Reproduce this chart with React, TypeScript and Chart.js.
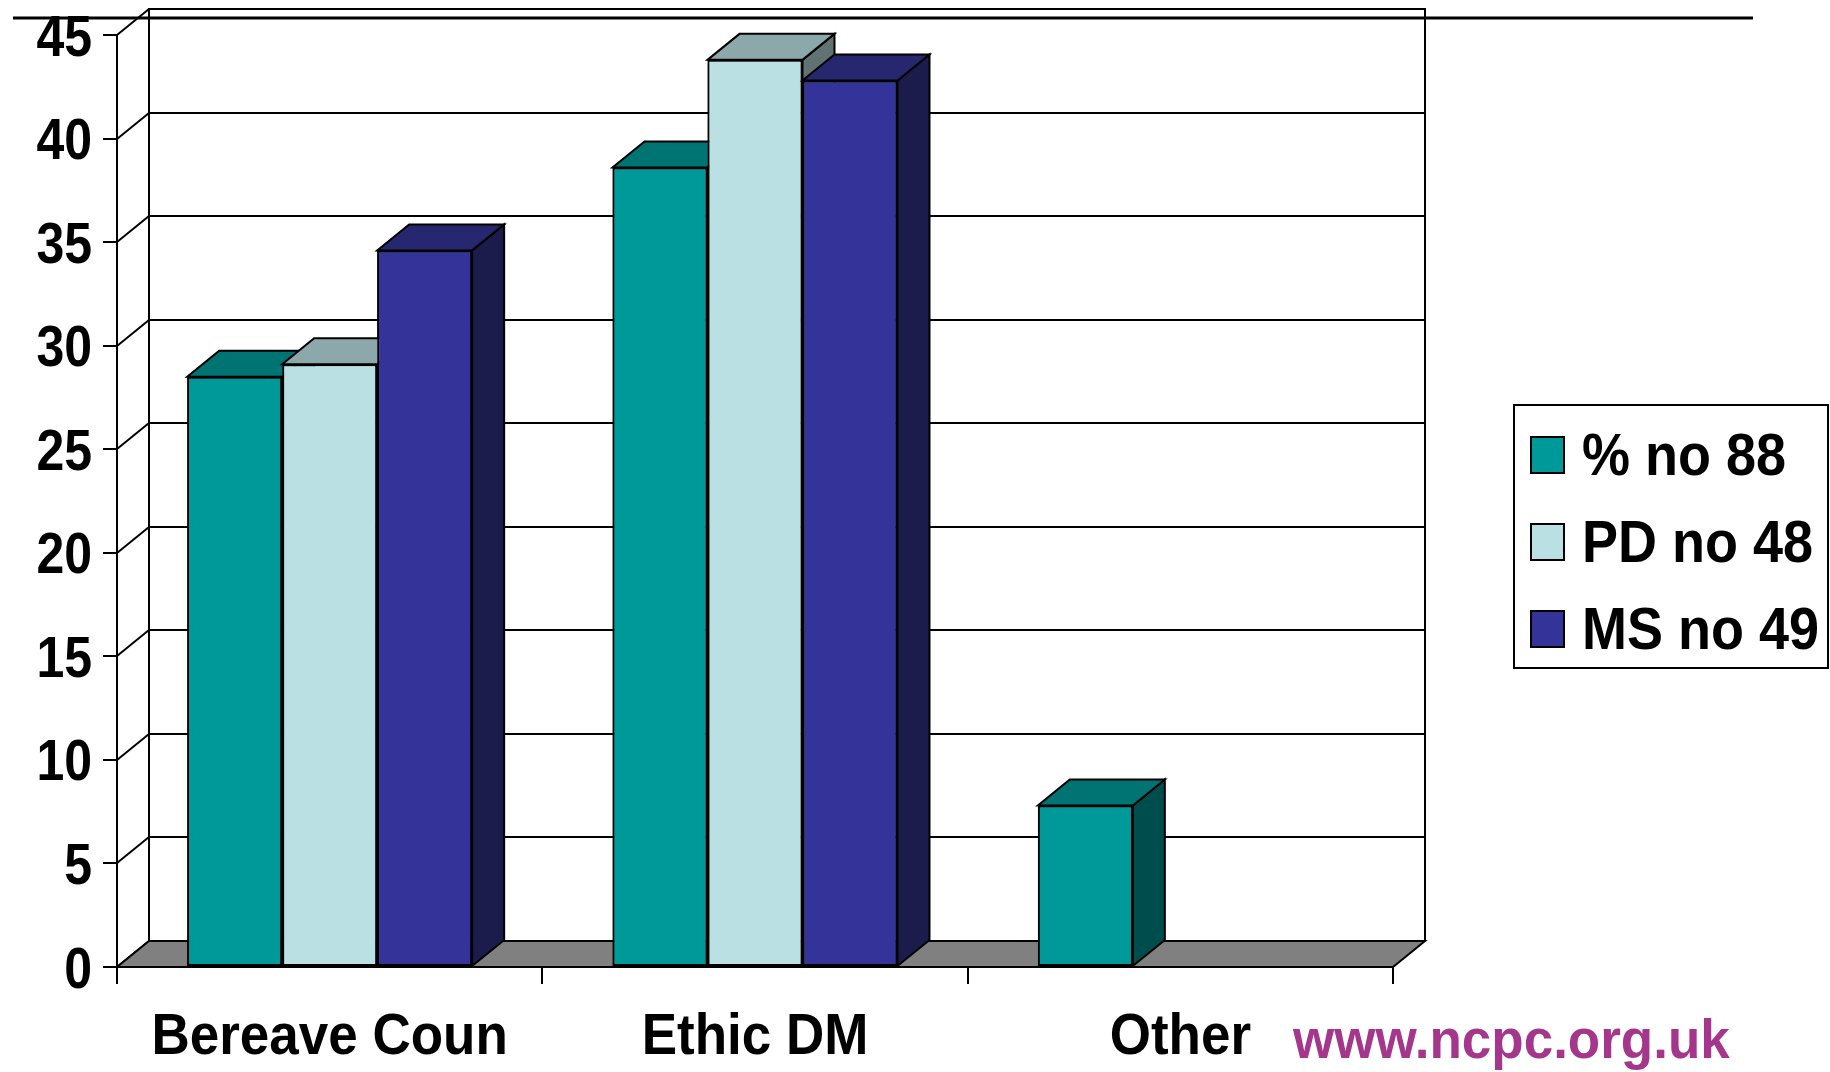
import React, { useEffect, useRef } from "react";
import { Chart, registerables } from "chart.js";

Chart.register(...registerables);

// Category names along the floor
const categories = ["Bereave Coun", "Ethic DM", "Other"];

// Series names shown in the legend
const seriesLabels = ["% no 88", "PD no 48", "MS no 49"];

// Percentages per category for each series
const allValues = [28.5, 38.6, 7.8];
const pdValues: (number | null)[] = [29.1, 43.8, null];
const msValues: (number | null)[] = [34.6, 42.8, null];

// Value axis range and step
const yMin = 0;
const yMax = 45;
const yStep = 5;

const siteLabel = "www.ncpc.org.uk";

// Face colours for the boxes: front, top (lit), side (shaded)
const frontColors = ["#009999", "#BBE0E3", "#333399"];
const topColors = ["#007373", "#8DA8AA", "#27276F"];
const sideColors = ["#004D4D", "#617273", "#1C1C4C"];

const FONT = "'Liberation Sans', Arial, Helvetica, sans-serif";
const DEPTH_X = 32;
const DEPTH_Y = 26;
const CAP = 0.716;

// Bold text with its own vertical scale, baseline at (x, y)
function stretchedText(
  ctx: CanvasRenderingContext2D,
  text: string,
  x: number,
  y: number,
  align: CanvasTextAlign,
  size: number,
  sy: number,
  color: string
) {
  ctx.save();
  ctx.translate(x, y);
  ctx.scale(1, sy);
  ctx.font = `bold ${size}px ${FONT}`;
  ctx.textAlign = align;
  ctx.textBaseline = "alphabetic";
  ctx.fillStyle = color;
  ctx.fillText(text, 0, 0);
  ctx.restore();
}

function drawFaces(ctx: CanvasRenderingContext2D, el: any, idx: number) {
  const { x, y, base, width } = el.getProps(["x", "y", "base", "width"], true);
  const l = x - width / 2;
  const r = x + width / 2;
  // side face
  ctx.beginPath();
  ctx.moveTo(r, y);
  ctx.lineTo(r + DEPTH_X, y - DEPTH_Y);
  ctx.lineTo(r + DEPTH_X, base - DEPTH_Y);
  ctx.lineTo(r, base);
  ctx.closePath();
  ctx.fillStyle = sideColors[idx];
  ctx.fill();
  ctx.stroke();
  // top face
  ctx.beginPath();
  ctx.moveTo(l, y);
  ctx.lineTo(r, y);
  ctx.lineTo(r + DEPTH_X, y - DEPTH_Y);
  ctx.lineTo(l + DEPTH_X, y - DEPTH_Y);
  ctx.closePath();
  ctx.fillStyle = topColors[idx];
  ctx.fill();
  ctx.stroke();
}

const box3d = {
  id: "box3d",
  beforeDraw(chart: any) {
    const { ctx, chartArea: a, scales } = chart;
    const y = scales.y;
    ctx.save();
    ctx.fillStyle = "#ffffff";
    ctx.fillRect(0, 0, chart.width, chart.height);

    const y0 = y.getPixelForValue(yMin);
    const yTop = y.getPixelForValue(yMax);
    const bl = a.left + DEPTH_X;
    const br = a.right + DEPTH_X;

    ctx.lineWidth = 2;
    ctx.strokeStyle = "#000";

    // back wall
    ctx.beginPath();
    ctx.moveTo(bl, y0 - DEPTH_Y);
    ctx.lineTo(bl, yTop - DEPTH_Y);
    ctx.lineTo(br, yTop - DEPTH_Y);
    ctx.lineTo(br, y0 - DEPTH_Y);
    ctx.stroke();

    // gridlines on the back wall and slanted ones on the side wall
    for (let v = yMin; v <= yMax; v += yStep) {
      const py = Math.round(y.getPixelForValue(v));
      ctx.beginPath();
      ctx.moveTo(bl, py - DEPTH_Y);
      ctx.lineTo(br, py - DEPTH_Y);
      ctx.stroke();
      ctx.beginPath();
      ctx.moveTo(a.left, py);
      ctx.lineTo(bl, py - DEPTH_Y);
      ctx.stroke();
    }

    // floor
    ctx.beginPath();
    ctx.moveTo(a.left, y0);
    ctx.lineTo(a.right, y0);
    ctx.lineTo(br, y0 - DEPTH_Y);
    ctx.lineTo(bl, y0 - DEPTH_Y);
    ctx.closePath();
    ctx.fillStyle = "#808080";
    ctx.fill();
    ctx.stroke();
    ctx.restore();
  },
  afterDatasetsDraw(chart: any) {
    // boxes are painted left to right so each one hides its left neighbour's side
    const { ctx } = chart;
    const count = chart.data.datasets.length;
    for (let d = 0; d < count; d++) {
      const meta = chart.getDatasetMeta(d);
      meta.data.forEach((el: any, i: number) => {
        const raw = chart.data.datasets[d].data[i];
        if (raw === null || raw === undefined) return;
        el.draw(ctx, chart.chartArea);
        ctx.save();
        ctx.lineWidth = 2;
        ctx.strokeStyle = "#000";
        drawFaces(ctx, el, d);
        ctx.restore();
      });
    }
  },
  afterDraw(chart: any) {
    const { ctx, scales } = chart;
    ctx.save();

    // value axis labels
    const ys = scales.y;
    ys.ticks.forEach((t: any) => {
      const py = ys.getPixelForValue(t.value);
      const sy = 1.15;
      stretchedText(ctx, String(t.value), 92, py + (CAP * 50 * sy) / 2, "right", 50, sy, "#000");
    });

    // category labels
    const xs = scales.x;
    xs.ticks.forEach((t: any, i: number) => {
      const px = xs.getPixelForTick(i);
      stretchedText(ctx, String(xs.getLabelForValue(t.value)), px, 1054, "center", 53, 1.1, "#000");
    });

    // legend
    const lx = 1514, ly = 405, lw = 314, lh = 263;
    ctx.fillStyle = "#fff";
    ctx.fillRect(lx, ly, lw, lh);
    ctx.lineWidth = 2;
    ctx.strokeStyle = "#000";
    ctx.strokeRect(lx, ly, lw, lh);
    chart.data.datasets.forEach((ds: any, i: number) => {
      const cy = 455 + i * 87;
      ctx.fillStyle = frontColors[i];
      ctx.fillRect(1531, cy - 18, 33, 36);
      ctx.strokeRect(1531, cy - 18, 33, 36);
      stretchedText(ctx, ds.label, 1582, cy + 20, "left", 54, 1.08, "#000");
    });

    // site address
    stretchedText(ctx, siteLabel, 1293, 1058, "left", 53, 1.05, "#A4378C");

    // rule across the top of the slide
    ctx.beginPath();
    ctx.lineWidth = 3;
    ctx.strokeStyle = "#000";
    ctx.moveTo(13, 18);
    ctx.lineTo(1753, 18);
    ctx.stroke();
    ctx.restore();
  },
};

export default function App() {
  const canvasRef = useRef<HTMLCanvasElement | null>(null);

  useEffect(() => {
    if (!canvasRef.current) return;
    const chart = new Chart(canvasRef.current, {
      type: "bar",
      data: {
        labels: categories,
        datasets: [allValues, pdValues, msValues].map((values, i) => ({
          label: seriesLabels[i],
          data: values,
          backgroundColor: frontColors[i],
          borderColor: "#000",
          borderWidth: 2,
          borderSkipped: false,
          categoryPercentage: 0.67,
          barPercentage: 1.0,
        })),
      },
      options: {
        animation: false,
        responsive: true,
        maintainAspectRatio: false,
        devicePixelRatio: 1,
        layout: { padding: { left: 0, top: 35, right: 437, bottom: 0 } },
        plugins: {
          legend: { display: false },
          tooltip: { enabled: false },
        },
        scales: {
          x: {
            type: "category",
            offset: true,
            grid: {
              offset: true,
              drawOnChartArea: false,
              drawTicks: true,
              tickLength: 17,
              color: "#000",
              lineWidth: 2,
            },
            border: { display: true, color: "#000", width: 2 },
            ticks: { display: false, autoSkip: false },
            afterFit: (scale: any) => {
              scale.height = 105;
            },
          },
          y: {
            min: yMin,
            max: yMax,
            grid: {
              drawOnChartArea: false,
              drawTicks: true,
              tickLength: 14,
              color: "#000",
              lineWidth: 2,
            },
            border: { display: true, color: "#000", width: 2 },
            ticks: { display: false, stepSize: yStep },
            afterFit: (scale: any) => {
              scale.width = 117;
            },
          },
        },
      },
      plugins: [box3d],
    });
    return () => chart.destroy();
  }, []);

  return (
    <div style={{ position: "absolute", left: 0, top: 0, width: 1830, height: 1072, background: "#fff" }}>
      <canvas ref={canvasRef} />
    </div>
  );
}
